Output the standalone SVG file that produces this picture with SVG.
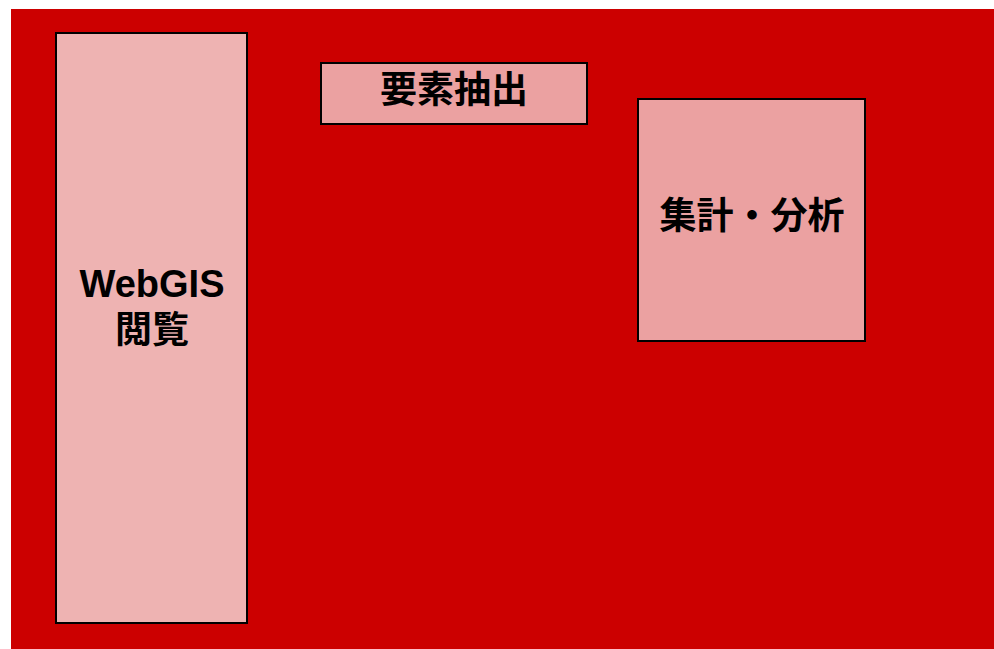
<svg xmlns="http://www.w3.org/2000/svg" width="994" height="649" viewBox="0 0 994 649">
<style>
.n{stroke:#000;stroke-width:2}
.t{font-family:"Liberation Sans","Noto Sans CJK JP",sans-serif;font-weight:bold;font-size:37px;fill:#000;text-anchor:middle}
.l{font-size:38px}
</style>
<rect x="0" y="0" width="994" height="649" fill="#fff"/>
<rect x="11" y="9" width="983" height="640" fill="#CC0000"/>
<g id="webgis">
<rect class="n" x="56" y="33" width="191" height="590" fill="#EEB3B2"/>
<text class="t l" x="152" y="297">WebGIS</text>
<text class="t" x="152" y="343">閲覧</text>
</g>
<g id="extract">
<rect class="n" x="321" y="63" width="266" height="61" fill="#EBA1A1"/>
<text class="t" x="454" y="103">要素抽出</text>
</g>
<g id="analysis">
<rect class="n" x="638" y="99" width="227" height="242" fill="#EBA1A1"/>
<text class="t" x="752" y="229">集計・分析</text>
</g>
<g id="connectors"/>
</svg>
